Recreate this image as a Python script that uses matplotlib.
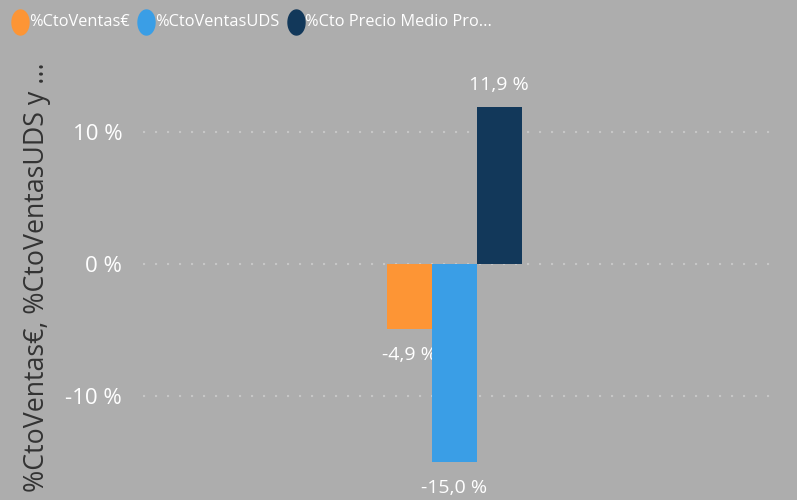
import matplotlib
matplotlib.use("Agg")
import numpy as np
import matplotlib.pyplot as plt
from matplotlib.lines import Line2D
from matplotlib.path import Path

# data
series = ["%CtoVentas€", "%CtoVentasUDS", "%Cto Precio Medio Pro..."]
values = [-4.9, -15.0, 11.9]
labels = ["-4,9 %", "-15,0 %", "11,9 %"]
colors = ["#FD9535", "#3A9EE6", "#12385A"]
yticks = [-10, 0, 10]
yticklabels = ["-10 %", "0 %", "10 %"]

plt.rcParams['font.family'] = ['Open Sans', 'DejaVu Sans']
bg = "#ADADAD"
W, H = 797, 500

fig = plt.figure(figsize=(7.97, 5.0), dpi=100, facecolor=bg)
ax = fig.add_axes([143/W, 0.0, 631/W, 440/H])
ax.set_facecolor(bg)

w = 1.0
offs = [-w, 0, w]
for i in range(3):
    ax.bar(offs[i], values[i], width=w, color=colors[i], zorder=3)
    dy = 22 if values[i] >= 0 else -26
    ax.annotate(labels[i], (offs[i], values[i]), xytext=(0, dy),
                textcoords='offset pixels', ha='center', va='center',
                color='white', fontsize=14, annotation_clip=False)

ax.set_xlim(-311/45, 320/45)
ax.set_ylim(-236/13.2, 204/13.2)
ax.set_yticks(yticks)
ax.set_yticklabels(yticklabels)
ax.set_xticks([])
ax.tick_params(axis='y', length=0, pad=15, labelsize=16, labelcolor='white')
ax.grid(axis='y', color='#C6C6C6', linestyle=(0, (1, 4.76)), linewidth=1.5, zorder=0)
for s in ax.spines.values():
    s.set_visible(False)

fig.text(37/W, 1 - 277/H, "%CtoVentas€, %CtoVentasUDS y ...", rotation=90,
         ha='center', va='center', color='#333333', fontsize=19.3)

# legend, laid out left to right (the markers are slightly tall ovals)
th = np.linspace(0, 2 * np.pi, 60)
oval = Path(np.column_stack([0.68 * np.cos(th), np.sin(th)]))
renderer = fig.canvas.get_renderer()
x = 19.5
for name, c in zip(series, colors):
    fig.add_artist(Line2D([x / W], [1 - 21.5 / H], transform=fig.transFigure,
                          marker=oval, markersize=18, color=c, linestyle='none'))
    t = fig.text((x + 9.5) / W, 1 - 22 / H, name, ha='left', va='center',
                 color='white', fontsize=11.8)
    bb = t.get_window_extent(renderer)
    x = bb.x1 + 16

fig.savefig("out.png", dpi=100, facecolor=bg)
